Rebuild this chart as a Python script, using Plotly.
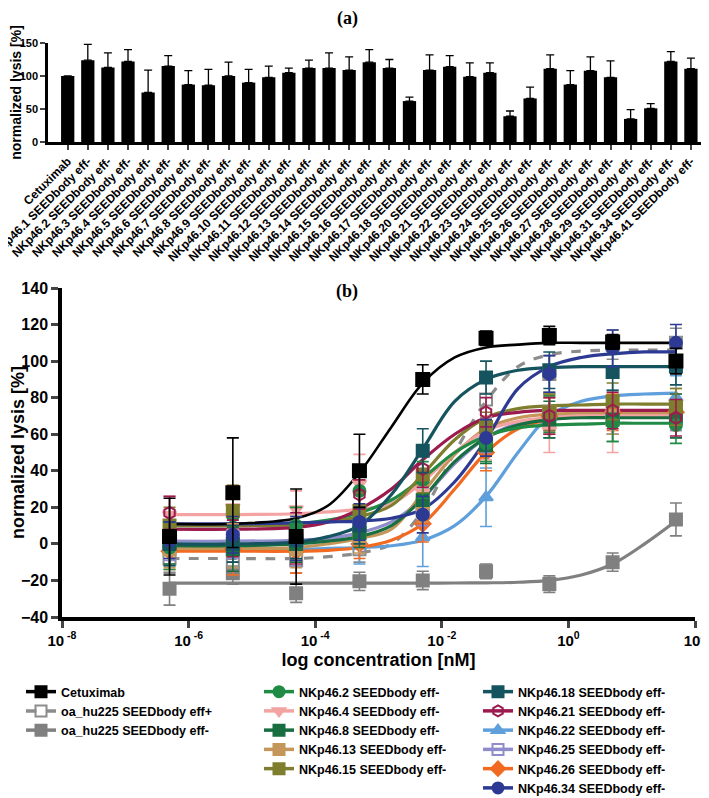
import plotly.graph_objects as go

# page body has an 8 px margin, so the figure is drawn 8 px smaller and all
# positions below are given in window pixels, shifted by OFF
OFF = 8
W, H = 709 - OFF, 798 - OFF

# ---------------- panel (a) data ----------------
bar_labels = ["Cetuximab"] + ["NKp46.%d SEEDbody eff-" % i for i in
              [1, 2, 3, 4, 5, 6, 7, 8, 9, 10, 11, 12, 13, 14, 15, 16, 17, 18,
               20, 21, 22, 23, 24, 25, 26, 27, 28, 29, 31, 34, 41]]
bar_values = [100, 124, 113, 122, 75, 115, 87, 86, 100, 90, 98, 105, 112, 112, 109,
              121, 112, 62, 109, 114, 99, 105, 39, 66, 111, 87, 108, 98, 35, 51, 122, 111]
bar_err = [0, 24, 22, 18, 34, 16, 21, 24, 21, 20, 17, 7, 12, 23, 20,
           19, 13, 6, 23, 17, 21, 15, 8, 17, 21, 21, 21, 25, 14, 7, 15, 16]

# ---------------- panel (b) data ----------------
conc = [5e-7, 5e-6, 5e-5, 5e-4, 5e-3, 5e-2, 0.5, 5, 50]
fit_x = [5e-7, 5e-6, 5e-5, 1.6e-4, 5e-4, 1.6e-3, 5e-3, 1.6e-2, 5e-2, 0.16, 0.5, 1.6, 5, 16, 50]

names = ["Cetuximab", "oa_hu225 SEEDbody eff+", "oa_hu225 SEEDbody eff-",
         "NKp46.2 SEEDbody eff-", "NKp46.4 SEEDbody eff-", "NKp46.8 SEEDbody eff-",
         "NKp46.13 SEEDbody eff-", "NKp46.15 SEEDbody eff-", "NKp46.18 SEEDbody eff-",
         "NKp46.21 SEEDbody eff-", "NKp46.22 SEEDbody eff-", "NKp46.25 SEEDbody eff-",
         "NKp46.26 SEEDbody eff-", "NKp46.34 SEEDbody eff-"]

colors = ["#000000", "#8c8c8c", "#808080", "#1f8b45", "#f4a3a3", "#186e40",
          "#c4965a", "#7e7e2e", "#15545f", "#9b1b4f", "#5f9fdb", "#8e8ccb",
          "#f26a21", "#2d3a94"]

symbols = ["square", "square-open", "square", "circle", "triangle-down", "square",
           "square-cross", "square-cross", "square", "hexagon-open", "triangle-up",
           "square-open", "diamond", "circle"]

cetuximab = [4, 28, 4, 40, 90, 112.5, 114, 110.5, 100]
cetuximab_err = [21, 30, 26, 20, 8, 4, 5, 4, 7]
cetuximab_fit = [11, 11, 14, 21, 39, 64, 88, 102, 107.5, 109, 110, 110, 110, 110, 110]

eff_plus = [-8, -9, -9, -3, 18, 79, 93, 109, 110]
eff_plus_err = [8, 8, 7, 7, 8, 10, 10, 8, 8]
eff_plus_fit = [-8, -8, -8, -7, -5, 0, 18, 50, 78, 97, 103.5, 105.5, 106, 106, 106]

eff_minus = [-24.5, -16, -27, -20.5, -20, -15, -22, -10, 13.4]
eff_minus_err = [9, 6, 5, 5, 5, 4, 4.5, 5, 9]
eff_minus_fit = [-21.5, -21.5, -21.5, -21.5, -21.5, -21.5, -21.5, -21.4, -21.3, -21, -20, -17, -11, 0, 12.5]

nk2 = [-2, 15.5, 10, 29, 35, 55, 71, 66, 65]
nk2_err = [12, 12, 10, 10, 10, 10, 10, 10, 10]
nk2_fit = [10, 10, 11, 13, 17, 24, 36, 50, 59, 63.5, 65, 65.5, 66, 66, 66]

nk4 = [16, 20, 19, 33, 28, 58, 62, 64, 70]
nk4_err = [10, 12, 10, 16, 10, 12, 12, 14, 12]
nk4_fit = [16, 16, 16.5, 17.5, 19, 22, 34, 50, 62, 67, 69, 70, 70, 70, 70]

nk8 = [1, -3, 0, 6, 24, 54, 68, 68, 70]
nk8_err = [12, 12, 10, 8, 10, 10, 10, 12, 12]
nk8_fit = [-1, -1, 0, 1.5, 4, 10, 25, 45, 58, 65, 68, 69, 69, 69, 69]

nk13 = [-3, -1, -3, 3, 22, 62, 72, 70, 75]
nk13_err = [10, 12, 10, 8, 10, 8, 10, 10, 10]
nk13_fit = [-2.5, -2.5, -2, 0, 3, 8, 28, 49, 63, 69, 71, 71.5, 71.5, 71.5, 71.5]

nk15 = [10, 18, 3, 18, 38, 64, 72, 78, 75]
nk15_err = [10, 14, 12, 10, 10, 8, 10, 10, 10]
nk15_fit = [10, 10, 10.5, 12, 15, 21, 38, 57, 69, 74, 75.5, 76, 76.5, 76.5, 76.5]

nk18 = [0, 0, 2, 10, 51, 91, 95, 94, 97]
nk18_err = [12, 10, 10, 10, 12, 9, 10, 10, 10]
nk18_fit = [0, 0, 1, 4, 10, 27, 52, 78, 90, 95, 96.5, 97, 97, 97, 97]

nk21 = [17, 3, 3, 27, 41, 72, 70, 73, 69]
nk21_err = [9, 10, 14, 8, 10, 8, 10, 10, 10]
nk21_fit = [8, 8, 9, 12, 19, 30, 46, 60, 69, 72, 73, 73, 73, 73, 73]

nk22 = [-2, -1, 0, -1, 3.6, 25.5, 70, 72, 80]
nk22_err = [10, 12, 12, 10, 16, 16, 12, 12, 12]
nk22_fit = [-3, -3, -3, -2.5, -2, -1, 2, 10, 26, 50, 70, 78, 81, 82, 82.5]

nk25 = [1, 4, 0, 10, 20, 60, 72, 70, 72]
nk25_err = [10, 12, 12, 10, 10, 10, 10, 10, 10]
nk25_fit = [1.5, 1.5, 2, 3, 6, 12, 25, 44, 58, 66, 69, 70, 70, 70, 70]

nk26 = [-4, -3, -4, 0, 11, 50, 70, 72, 72]
nk26_err = [10, 14, 12, 8, 10, 10, 10, 10, 10]
nk26_fit = [-4, -4, -4, -3.5, -2, 2, 11, 30, 50, 63, 68, 69.5, 70, 70, 70]

nk34 = [2, 5, 3, 12, 16, 58, 93, 107, 110]
nk34_err = [10, 10, 12, 10, 10, 10, 10, 10, 10]
nk34_fit = [11, 11, 11.5, 12, 12.5, 14, 19, 34, 57, 85, 97, 102, 104, 105, 105]

points = [cetuximab, eff_plus, eff_minus, nk2, nk4, nk8, nk13, nk15, nk18, nk21, nk22, nk25, nk26, nk34]
errs = [cetuximab_err, eff_plus_err, eff_minus_err, nk2_err, nk4_err, nk8_err, nk13_err, nk15_err,
        nk18_err, nk21_err, nk22_err, nk25_err, nk26_err, nk34_err]
fits = [cetuximab_fit, eff_plus_fit, eff_minus_fit, nk2_fit, nk4_fit, nk8_fit, nk13_fit, nk15_fit,
        nk18_fit, nk21_fit, nk22_fit, nk25_fit, nk26_fit, nk34_fit]
legend_of = ["legend"] * 3 + ["legend2"] * 5 + ["legend3"] * 6

BOLD = dict(family="Liberation Sans, Arial", weight="bold", color="black")

fig = go.Figure()

# ---- (a) bars
fig.add_trace(go.Bar(
    x=list(range(len(bar_labels))), y=bar_values, width=0.66,
    marker=dict(color="black", line=dict(width=0)),
    error_y=dict(type="data", array=bar_err, arrayminus=[0] * len(bar_err), symmetric=False,
                 color="black", thickness=1.3, width=4),
    xaxis="x", yaxis="y", showlegend=False))

# ---- (b) curves, then points on top
draw_order = [2, 1, 10, 12, 11, 6, 4, 5, 3, 7, 9, 8, 13, 0]
for i in draw_order:
    fig.add_trace(go.Scatter(
        x=fit_x, y=fits[i], mode="lines", line=dict(color=colors[i], width=3.2 if i else 2.6,
                                                    shape="spline", smoothing=1.0,
                                                    dash="dash" if i == 1 else "solid"),
        xaxis="x2", yaxis="y2", showlegend=False, hoverinfo="skip"))
for i in draw_order:
    fig.add_trace(go.Scatter(
        x=conc, y=points[i], mode="markers",
        marker=dict(symbol=symbols[i], color=colors[i], size=13 if i == 0 else 12,
                    line=dict(color=colors[i], width=2)),
        error_y=dict(type="data", array=errs[i], color=colors[i], thickness=1.6, width=6),
        xaxis="x2", yaxis="y2", showlegend=False))

# legend-only entries
for i, nm in enumerate(names):
    fig.add_trace(go.Scatter(
        x=[None], y=[None], mode="lines+markers", name=nm, legend=legend_of[i],
        line=dict(color=colors[i], width=3.5, dash="dash" if i == 1 else "solid"),
        marker=dict(symbol=symbols[i], color=colors[i], size=11,
                    line=dict(color=colors[i], width=2)),
        xaxis="x2", yaxis="y2"))

# ---- layout
def px_x(p):
    return (p - OFF) / W

def px_y(p):
    return 1 - (p - OFF) / H

leg_common = dict(font=dict(size=12.5, **BOLD), bgcolor="rgba(0,0,0,0)",
                  yanchor="top", xanchor="left", tracegroupgap=0, itemwidth=30)

serif = dict(family="Liberation Serif, Times New Roman", size=18, weight="bold", color="black")

fig.update_layout(
    width=W, height=H,
    margin=dict(l=0, r=0, t=0, b=0, autoexpand=False),
    paper_bgcolor="white", plot_bgcolor="white",
    font=BOLD,
    xaxis=dict(domain=[px_x(48), px_x(705)], range=[-0.98, 31.7],
               tickvals=list(range(len(bar_labels))), ticktext=bar_labels, tickangle=-45,
               tickfont=dict(size=12, **BOLD), ticks="outside", ticklen=5, tickwidth=2,
               ticklabeloverflow="allow",
               showline=True, linewidth=2.5, linecolor="black", showgrid=False,
               zeroline=False, anchor="y", automargin=False),
    yaxis=dict(domain=[px_y(142), px_y(43)], range=[0, 150], dtick=50,
               tickfont=dict(size=11, **BOLD), ticks="outside", ticklen=5, tickwidth=2,
               showline=True, linewidth=2.5, linecolor="black", showgrid=False, zeroline=False,
               title=dict(text="normalized lysis [%]", font=dict(size=14, **BOLD), standoff=3),
               anchor="x", automargin=False),
    xaxis2=dict(domain=[px_x(62), px_x(695)], type="log", range=[-8, 2],
                tickvals=[1e-8, 1e-6, 1e-4, 1e-2, 1, 100],
                ticktext=["10<sup> -8</sup>", "10<sup> -6</sup>", "10<sup> -4</sup>",
                          "10<sup> -2</sup>", "10<sup>0</sup>", "10<sup>2</sup>"],
                tickfont=dict(size=15, **BOLD), ticks="outside", ticklen=7, tickwidth=3,
                ticklabeloverflow="allow",
                showline=True, linewidth=3.5, linecolor="black", showgrid=False, zeroline=False,
                title=dict(text="log concentration [nM]", font=dict(size=18, **BOLD), standoff=7),
                anchor="y2", automargin=False),
    yaxis2=dict(domain=[px_y(617), px_y(288)], range=[-40, 140], dtick=20,
                tickfont=dict(size=16, **BOLD), ticks="outside", ticklen=7, tickwidth=3,
                showline=True, linewidth=3.5, linecolor="black", showgrid=False, zeroline=False,
                title=dict(text="normalized lysis [%]", font=dict(size=18, **BOLD), standoff=4),
                anchor="x2", automargin=False),
    legend=dict(x=px_x(21), y=px_y(677), **leg_common),
    legend2=dict(x=px_x(259), y=px_y(677), **leg_common),
    legend3=dict(x=px_x(478), y=px_y(677), **leg_common),
    annotations=[
        dict(text="(a)", x=px_x(347), y=px_y(19), xref="paper", yref="paper", showarrow=False,
             xanchor="center", yanchor="middle", font=serif),
        dict(text="(b)", x=px_x(347), y=px_y(291), xref="paper", yref="paper", showarrow=False,
             xanchor="center", yanchor="middle", font=serif),
    ],
)

fig.write_html("out.html")
